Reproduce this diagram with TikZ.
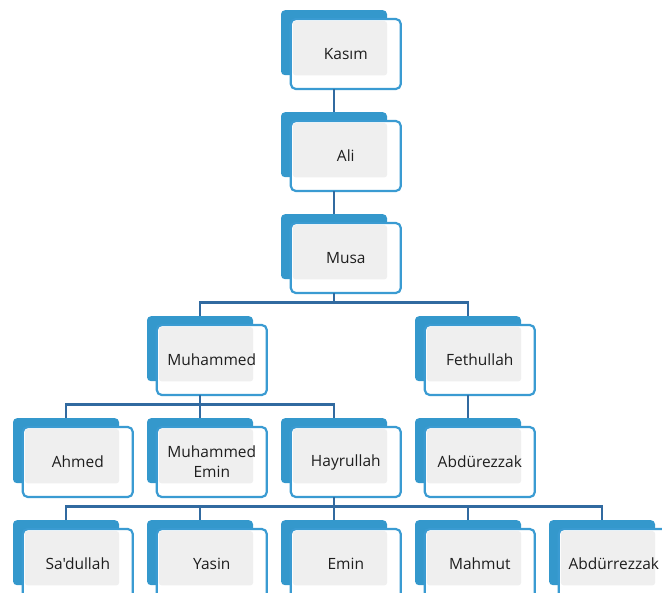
\documentclass[tikz,border=0pt]{standalone}
\usepackage{fontspec}
\newfontfamily\lblfont{Open Sans}
\usetikzlibrary{calc}
\definecolor{backblue}{RGB}{52,152,204}
\definecolor{frontblue}{RGB}{58,155,210}
\definecolor{connblue}{RGB}{49,106,160}
\definecolor{boxgray}{RGB}{239,239,239}
\definecolor{txt}{RGB}{30,30,30}
\tikzset{
  backbox/.style={rectangle,fill=backblue,rounded corners=4pt,minimum width=106pt,minimum height=65pt,inner sep=0pt,anchor=north},
  frontbox/.style={fill=white,draw=frontblue,line width=2.2pt,rounded corners=5pt},
  graybox/.style={fill=boxgray,rounded corners=3pt},
  lbl/.style={font=\lblfont\fontsize{15.5}{20}\selectfont,text=txt,align=center},
  conn/.style={draw=connblue,line width=2.4pt}
}
\newcommand{\famnode}[4]{%
  \node[backbox] (#1) at (#2,#3) {};
  \draw[frontbox] ($(#1.north west)+(10,9)$) rectangle ($(#1.north west)+(120,79)$);
  \fill[graybox] ($(#1.north west)+(12,11)$) rectangle ($(#1.south east)$);
  \node[lbl] (#1-t) at ($(#1.north west)+(65,44)$) {#4};
  \coordinate (#1-b) at ($(#1.south)+(0,14)$);
}
\begin{document}
\begin{tikzpicture}[x=1pt,y=-1pt]
\useasboundingbox (0,0) rectangle (662,593);
\begin{scope}
\clip (0,0) rectangle (662,593);
\famnode{kasim}{334}{10}{Kasım}
\famnode{ali}{334}{112}{Ali}
\famnode{musa}{334}{214}{Musa}
\famnode{muhammed}{200}{316}{Muhammed}
\famnode{fethullah}{468}{316}{Fethullah}
\famnode{ahmed}{66}{418}{Ahmed}
\famnode{memin}{200}{418}{Muhammed\\Emin}
\famnode{hayrullah}{334}{418}{Hayrullah}
\famnode{abdurezzak}{468}{418}{Abdürezzak}
\famnode{sadullah}{66}{520}{Sa'dullah}
\famnode{yasin}{200}{520}{Yasin}
\famnode{emin}{334}{520}{Emin}
\famnode{mahmut}{468}{520}{Mahmut}
\famnode{abdurrezzak}{602}{520}{Abdürrezzak}

\draw[conn] (kasim-b) -- (ali.north);
\draw[conn] (ali-b) -- (musa.north);
\draw[conn] (musa-b) -- ++(0,9) -| (muhammed.north);
\draw[conn] (musa-b) -- ++(0,9) -| (fethullah.north);
\draw[conn] (fethullah-b) -- (abdurezzak.north);
\draw[conn] (muhammed-b) -- ++(0,9) -| (ahmed.north);
\draw[conn] (muhammed-b) -- ++(0,9) -| (memin.north);
\draw[conn] (muhammed-b) -- ++(0,9) -| (hayrullah.north);
\draw[conn] (hayrullah-b) -- ++(0,9) -| (sadullah.north);
\draw[conn] (hayrullah-b) -- ++(0,9) -| (yasin.north);
\draw[conn] (hayrullah-b) -- ++(0,9) -| (emin.north);
\draw[conn] (hayrullah-b) -- ++(0,9) -| (mahmut.north);
\draw[conn] (hayrullah-b) -- ++(0,9) -| (abdurrezzak.north);
\end{scope}
\end{tikzpicture}
\end{document}
